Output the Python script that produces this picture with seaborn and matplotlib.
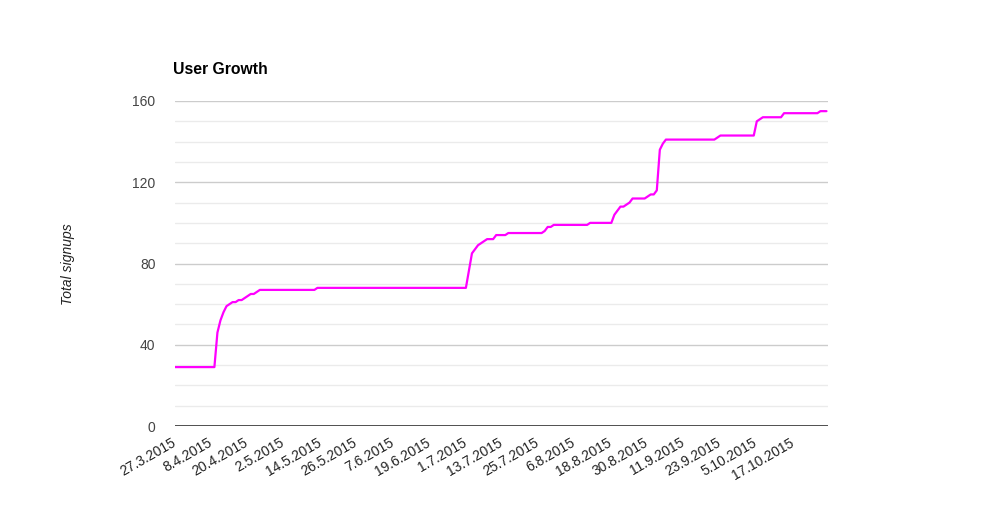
import matplotlib
matplotlib.use("Agg")
import matplotlib.pyplot as plt
import matplotlib.ticker as mticker
import matplotlib.transforms as mtransforms
import seaborn as sns
import pandas as pd

# Data: breakpoints of the cumulative signups curve (day offset from 27.3.2015, total)
start_date = "2015-03-27"
day_offsets = [0, 13, 14, 15, 16, 17, 18, 19, 20, 21, 22, 23, 24, 25, 26, 27, 28, 46, 47,
               96, 98, 99, 100, 101, 102, 103, 105, 106, 109, 110, 121, 122, 123, 124, 125,
               136, 137, 144, 145, 146, 147, 148, 149, 150, 151, 155, 156, 157, 158, 159,
               160, 161, 162, 178, 179, 180, 191, 192, 193, 194, 200, 201, 212, 213, 215]
total_signups = [29, 29, 46, 52, 56, 59, 60, 61, 61, 62, 62, 63, 64, 65, 65, 66, 67, 67, 68,
                 68, 85, 87, 89, 90, 91, 92, 92, 94, 94, 95, 95, 96, 98, 98, 99,
                 99, 100, 100, 104, 106, 108, 108, 109, 110, 112, 112, 113, 114, 114, 116,
                 136, 139, 141, 141, 142, 143, 143, 150, 151, 152, 152, 154, 154, 155, 155]
tick_dates = ["27.3.2015", "8.4.2015", "20.4.2015", "2.5.2015", "14.5.2015", "26.5.2015",
              "7.6.2015", "19.6.2015", "1.7.2015", "13.7.2015", "25.7.2015", "6.8.2015",
              "18.8.2015", "30.8.2015", "11.9.2015", "23.9.2015", "5.10.2015", "17.10.2015"]
y_ticks = [0, 40, 80, 120, 160]
title = "User Growth"
y_label = "Total signups"

sns.set_theme(style="white")
plt.rcParams['font.family'] = ['Liberation Sans', 'DejaVu Sans']

t0 = pd.Timestamp(start_date)
df = pd.DataFrame({
    "date": [t0 + pd.Timedelta(days=d) for d in day_offsets],
    "signups": total_signups,
})

fig = plt.figure(figsize=(10.01, 5.28), dpi=100)
ax = fig.add_axes([175/1001, 1 - 426/528, (828 - 175)/1001, (426 - 101)/528])

ax.set_ylim(0, 160)
ax.yaxis.set_major_locator(mticker.FixedLocator(y_ticks))
ax.yaxis.set_minor_locator(mticker.MultipleLocator(10))
ax.grid(which="minor", axis="y", color="#ebebeb", linewidth=1)
ax.grid(which="major", axis="y", color="#cccccc", linewidth=1)
ax.grid(axis="x", visible=False)
ax.set_axisbelow(True)

sns.lineplot(data=df, x="date", y="signups", ax=ax, color="#ff00ff", linewidth=1.6)

ax.axhline(0, color="#333333", linewidth=1.2, zorder=3)

ax.set_xlim(t0, t0 + pd.Timedelta(days=215.5))
tick_pos = [pd.to_datetime(s, format="%d.%m.%Y") for s in tick_dates]
ax.set_xticks(tick_pos)
ax.set_xticklabels(tick_dates, rotation=30, ha="right", va="top", rotation_mode="anchor")
ax.tick_params(axis="x", length=0, pad=7, labelsize=10, labelcolor="#222222")
ax.tick_params(axis="y", length=0, pad=14, labelsize=10, labelcolor="#444444")
ax.set_yticklabels([str(v) for v in y_ticks])
offset = mtransforms.ScaledTranslation(-4/100, 0, fig.dpi_scale_trans)
for lab in ax.get_xticklabels():
    lab.set_transform(lab.get_transform() + offset)

for s in ax.spines.values():
    s.set_visible(False)

ax.set_xlabel("")
ax.set_ylabel("")
fig.text(68/1001, 1 - 264/528, y_label, rotation=90, ha="center", va="center",
         fontsize=10, fontstyle="italic", color="#222222")
fig.text(173/1001, 1 - 70/528, title, ha="left", va="center",
         fontsize=11.3, fontweight="bold", color="#000000")

fig.savefig("out.png", dpi=100)
